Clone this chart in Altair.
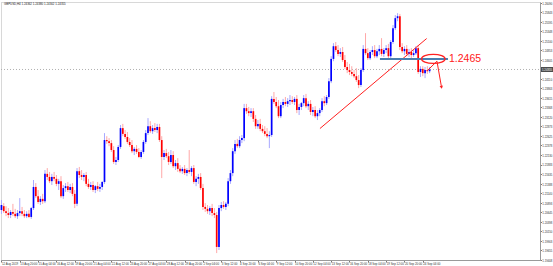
import json
import altair as alt
import pandas as pd

# ---- GBPUSD H4 candles ----
OPEN = [1.2070,1.2080,1.2067,1.2062,1.2057,1.2065,1.2060,1.2054,1.2062,1.2067,
        1.2060,1.2054,1.2060,1.2052,1.2075,1.2130,1.2106,1.2091,1.2099,1.2093,
        1.2164,1.2156,1.2145,1.2156,1.2151,1.2138,1.2145,1.2106,1.2127,1.2132,
        1.2122,1.2130,1.2112,1.2086,1.2171,1.2161,1.2156,1.2161,1.2138,1.2130,
        1.2135,1.2122,1.2132,1.2125,1.2130,1.2143,1.2252,1.2249,1.2244,1.2226,
        1.2195,1.2200,1.2234,1.2283,1.2268,1.2260,1.2247,1.2239,1.2223,1.2229,
        1.2221,1.2208,1.2221,1.2247,1.2270,1.2288,1.2275,1.2283,1.2278,1.2286,
        1.2252,1.2208,1.2218,1.2210,1.2195,1.2213,1.2184,1.2192,1.2177,1.2171,
        1.2177,1.2166,1.2174,1.2169,1.2179,1.2143,1.2151,1.2156,1.2127,1.2078,
        1.2073,1.2067,1.2075,1.2062,1.2057,1.1974,1.2075,1.2083,1.2078,1.2086,
        1.2145,1.2166,1.2223,1.2242,1.2236,1.2252,1.2257,1.2335,1.2327,1.2322,
        1.2327,1.2307,1.2288,1.2294,1.2281,1.2275,1.2268,1.2262,1.2265,1.2359,
        1.2351,1.2340,1.2314,1.2343,1.2351,1.2346,1.2353,1.2356,1.2351,1.2359,
        1.2330,1.2338,1.2348,1.2361,1.2340,1.2346,1.2325,1.2330,1.2314,1.2322,
        1.2330,1.2353,1.2348,1.2364,1.2405,1.2463,1.2496,1.2486,1.2476,1.2481,
        1.2460,1.2442,1.2434,1.2429,1.2424,1.2418,1.2408,1.2395,1.2434,1.2489,
        1.2478,1.2465,1.2481,1.2486,1.2470,1.2483,1.2489,1.2476,1.2486,1.2491,
        1.2470,1.2507,1.2543,1.2569,1.2574,1.2494,1.2483,1.2489,1.2476,1.2481,
        1.2473,1.2478,1.2491,1.2429,1.2437,1.2426,1.2434,1.2431]
HIGH = [1.2096,1.2088,1.2080,1.2075,1.2070,1.2086,1.2073,1.2070,1.2101,1.2078,
        1.2070,1.2067,1.2070,1.2078,1.2148,1.2140,1.2122,1.2106,1.2112,1.2174,
        1.2179,1.2169,1.2164,1.2169,1.2161,1.2151,1.2158,1.2135,1.2140,1.2143,
        1.2138,1.2140,1.2122,1.2179,1.2182,1.2174,1.2166,1.2169,1.2151,1.2143,
        1.2145,1.2135,1.2143,1.2138,1.2145,1.2270,1.2262,1.2257,1.2252,1.2236,
        1.2208,1.2239,1.2291,1.2294,1.2278,1.2273,1.2257,1.2252,1.2234,1.2239,
        1.2231,1.2226,1.2252,1.2278,1.2309,1.2301,1.2291,1.2296,1.2294,1.2294,
        1.2262,1.2226,1.2229,1.2221,1.2226,1.2223,1.2200,1.2205,1.2187,1.2182,
        1.2187,1.2179,1.2226,1.2184,1.2187,1.2158,1.2164,1.2166,1.2138,1.2088,
        1.2083,1.2080,1.2086,1.2075,1.2065,1.2083,1.2091,1.2093,1.2091,1.2153,
        1.2174,1.2231,1.2252,1.2255,1.2262,1.2265,1.2346,1.2346,1.2338,1.2335,
        1.2335,1.2317,1.2304,1.2307,1.2291,1.2288,1.2283,1.2275,1.2366,1.2377,
        1.2364,1.2356,1.2351,1.2359,1.2364,1.2361,1.2369,1.2366,1.2364,1.2369,
        1.2346,1.2351,1.2369,1.2372,1.2353,1.2356,1.2338,1.2340,1.2330,1.2335,
        1.2361,1.2366,1.2369,1.2413,1.2470,1.2504,1.2507,1.2499,1.2491,1.2494,
        1.2473,1.2455,1.2450,1.2444,1.2434,1.2439,1.2421,1.2439,1.2499,1.2530,
        1.2491,1.2486,1.2496,1.2499,1.2489,1.2499,1.2517,1.2491,1.2499,1.2502,
        1.2512,1.2551,1.2577,1.2582,1.2580,1.2504,1.2496,1.2499,1.2489,1.2491,
        1.2486,1.2496,1.2499,1.2444,1.2444,1.2442,1.2444,1.2442]
LOW = [1.2060,1.2062,1.2054,1.2049,1.2049,1.2054,1.2049,1.2047,1.2054,1.2054,
       1.2049,1.2049,1.2049,1.2047,1.2070,1.2101,1.2086,1.2083,1.2086,1.2088,
       1.2148,1.2140,1.2135,1.2145,1.2132,1.2122,1.2101,1.2099,1.2117,1.2117,
       1.2114,1.2106,1.2075,1.2080,1.2153,1.2148,1.2145,1.2132,1.2125,1.2122,
       1.2117,1.2114,1.2119,1.2117,1.2122,1.2138,1.2242,1.2236,1.2221,1.2190,
       1.2187,1.2195,1.2229,1.2262,1.2255,1.2242,1.2234,1.2218,1.2213,1.2216,
       1.2205,1.2203,1.2216,1.2242,1.2265,1.2270,1.2268,1.2273,1.2270,1.2247,
       1.2153,1.2200,1.2205,1.2187,1.2190,1.2179,1.2174,1.2169,1.2166,1.2164,
       1.2161,1.2158,1.2164,1.2158,1.2138,1.2132,1.2138,1.2122,1.2070,1.2065,
       1.2060,1.2057,1.2054,1.2049,1.1958,1.1966,1.2067,1.2073,1.2070,1.2080,
       1.2138,1.2158,1.2216,1.2231,1.2231,1.2244,1.2249,1.2320,1.2314,1.2312,
       1.2299,1.2281,1.2281,1.2275,1.2270,1.2262,1.2257,1.2231,1.2260,1.2346,
       1.2335,1.2309,1.2309,1.2335,1.2340,1.2338,1.2343,1.2346,1.2343,1.2322,
       1.2317,1.2330,1.2340,1.2335,1.2330,1.2317,1.2314,1.2309,1.2304,1.2314,
       1.2325,1.2340,1.2343,1.2359,1.2400,1.2457,1.2481,1.2470,1.2468,1.2455,
       1.2437,1.2426,1.2421,1.2418,1.2413,1.2403,1.2387,1.2390,1.2429,1.2473,
       1.2460,1.2460,1.2473,1.2465,1.2465,1.2473,1.2470,1.2468,1.2478,1.2465,
       1.2465,1.2502,1.2538,1.2561,1.2486,1.2478,1.2473,1.2470,1.2468,1.2465,
       1.2468,1.2473,1.2424,1.2416,1.2418,1.2413,1.2424,1.2426]
CLOSE = [1.2083,1.2067,1.2062,1.2057,1.2065,1.2060,1.2054,1.2062,1.2067,1.2060,
         1.2054,1.2060,1.2052,1.2075,1.2130,1.2106,1.2091,1.2099,1.2093,1.2164,
         1.2156,1.2145,1.2156,1.2151,1.2138,1.2145,1.2106,1.2127,1.2132,1.2122,
         1.2130,1.2112,1.2086,1.2171,1.2161,1.2156,1.2161,1.2138,1.2130,1.2135,
         1.2122,1.2132,1.2125,1.2130,1.2143,1.2252,1.2249,1.2244,1.2226,1.2195,
         1.2200,1.2234,1.2283,1.2268,1.2260,1.2247,1.2239,1.2223,1.2229,1.2221,
         1.2208,1.2221,1.2247,1.2270,1.2288,1.2275,1.2283,1.2278,1.2286,1.2252,
         1.2208,1.2218,1.2210,1.2195,1.2213,1.2184,1.2192,1.2177,1.2171,1.2177,
         1.2166,1.2174,1.2169,1.2179,1.2143,1.2151,1.2156,1.2127,1.2078,1.2073,
         1.2067,1.2075,1.2062,1.2057,1.1974,1.2075,1.2083,1.2078,1.2086,1.2145,
         1.2166,1.2223,1.2242,1.2236,1.2252,1.2257,1.2335,1.2327,1.2322,1.2327,
         1.2307,1.2288,1.2294,1.2281,1.2275,1.2268,1.2262,1.2265,1.2359,1.2351,
         1.2340,1.2314,1.2343,1.2351,1.2346,1.2353,1.2356,1.2351,1.2359,1.2330,
         1.2338,1.2348,1.2361,1.2340,1.2346,1.2325,1.2330,1.2314,1.2322,1.2330,
         1.2353,1.2348,1.2364,1.2405,1.2463,1.2496,1.2486,1.2476,1.2481,1.2460,
         1.2442,1.2434,1.2429,1.2424,1.2418,1.2408,1.2395,1.2434,1.2489,1.2478,
         1.2465,1.2481,1.2486,1.2470,1.2483,1.2489,1.2476,1.2486,1.2491,1.2470,
         1.2507,1.2543,1.2569,1.2574,1.2494,1.2483,1.2489,1.2476,1.2481,1.2473,
         1.2478,1.2491,1.2429,1.2437,1.2426,1.2434,1.2431,1.24355]

CURRENT_PRICE = 1.24355
TITLE_TEXT = "GBPUSD,H4  1.24362 1.24380 1.24302 1.24355"

# price-axis labels
Y_TICKS = [1.26090, 1.25843, 1.25595, 1.25348, 1.25100, 1.24853, 1.24605,
           1.24110, 1.23863, 1.23615, 1.23368, 1.23120, 1.22873, 1.22625,
           1.22378, 1.22130, 1.21883, 1.21635, 1.21388, 1.21140, 1.20893,
           1.20645, 1.20398, 1.20150, 1.19903, 1.19655, 1.19408]

# time-axis labels (bar index, text)
X_TICK_POS = [0, 8, 16, 24, 32, 40, 48, 56, 64, 72, 80, 88, 96, 104, 112,
              120, 128, 136, 144, 152, 160, 168, 176, 184]
X_TICK_TEXT = ["12 Aug 2019", "13 Aug 20:00", "15 Aug 04:00", "16 Aug 12:00",
               "19 Aug 20:00", "21 Aug 04:00", "22 Aug 12:00", "23 Aug 20:00",
               "27 Aug 04:00", "28 Aug 12:00", "29 Aug 20:00", "2 Sep 04:00",
               "3 Sep 12:00", "4 Sep 20:00", "6 Sep 04:00", "9 Sep 12:00",
               "10 Sep 20:00", "12 Sep 04:00", "13 Sep 12:00", "16 Sep 20:00",
               "18 Sep 04:00", "19 Sep 12:00", "20 Sep 20:00", "24 Sep 04:00"]

# annotations drawn on the chart (bar index, price)
TREND_X = [139.1, 185.7]
TREND_P = [1.2282, 1.2516]
LEVEL_X = [165.3, 195.0]
LEVEL_P = 1.2463
LEVEL_TEXT = "1.2465"
ELLIPSE_X = 188.6
ARROW_X = [185.9, 190.2, 192.2]
ARROW_P = [1.2432, 1.2457, 1.2389]

N = len(OPEN)
df = pd.DataFrame({"i": list(range(N)), "open": OPEN, "high": HIGH,
                   "low": LOW, "close": CLOSE})

SMALL_FONT = "Liberation Sans"
W, H = 539, 258
xs = alt.Scale(domain=[-0.2, 235.2], nice=False, zero=False)
ys = alt.Scale(domain=[1.1940, 1.2611], nice=False, zero=False)

label_expr = "{}[indexof({}, datum.value)]".format(json.dumps(X_TICK_TEXT), json.dumps(X_TICK_POS))
xaxis = alt.Axis(values=X_TICK_POS, labelExpr=label_expr, title=None, grid=False,
                 labelAlign="left", labelFontSize=2.9, labelFont=SMALL_FONT,
                 labelColor="#333333", tickSize=2, tickColor="#777777",
                 domainColor="#9a9a9a", labelPadding=0.5, labelOverlap=False,
                 labelBound=False, labelFlush=False)
yaxis = alt.Axis(values=Y_TICKS, format=".5f", orient="right", title=None, grid=False,
                 labelFontSize=2.8, labelFont=SMALL_FONT, labelColor="#333333",
                 tickSize=1.5, tickColor="#777777", domainColor="#9a9a9a",
                 labelPadding=0.3, labelOverlap=False, labelBound=False, labelFlush=False)


def X(f):
    return alt.X(f, type="quantitative", scale=xs, axis=xaxis)


def Y(f):
    return alt.Y(f, type="quantitative", scale=ys, axis=yaxis)


up = "datum.close >= datum.open"
base = alt.Chart(df)
wick = base.mark_rule(strokeWidth=1).encode(
    x=X("i"), y=Y("low"), y2="high",
    color=alt.condition(up, alt.value("#a8a8ff"), alt.value("#ffa8a8")))
body = base.mark_rule(strokeWidth=1.7, strokeCap="butt").encode(
    x=X("i"), y=Y("open"), y2="close",
    color=alt.condition(up, alt.value("#0000ff"), alt.value("#ff0000")))

cur_df = pd.DataFrame({"p": [CURRENT_PRICE], "t": ["%.5f" % CURRENT_PRICE]})
cur_line = alt.Chart(cur_df).mark_rule(color="#b0b0b0", strokeWidth=1, strokeDash=[1, 2]).encode(
    y=Y("p"), x=alt.value(0), x2=alt.value(W))
cur_box = alt.Chart(cur_df).mark_tick(orient="horizontal", size=12, thickness=5, color="#000000").encode(
    y=Y("p"), x=alt.value(W + 7))
cur_txt = alt.Chart(cur_df).mark_text(align="left", baseline="middle", fontSize=2.8,
                                      font=SMALL_FONT, color="#ffffff").encode(
    y=Y("p"), x=alt.value(W + 2), text="t:N")

trend_df = pd.DataFrame({"x": TREND_X, "p": TREND_P})
trend = alt.Chart(trend_df).mark_line(color="#ff2020", strokeWidth=1).encode(x=X("x"), y=Y("p"))

lvl_df = pd.DataFrame({"x": [LEVEL_X[0]], "x2": [LEVEL_X[1]], "p": [LEVEL_P]})
level = alt.Chart(lvl_df).mark_rule(color="#4a7fb0", strokeWidth=2).encode(
    x=X("x"), x2="x2", y=Y("p"))

ell_df = pd.DataFrame({"x": [ELLIPSE_X], "p": [LEVEL_P]})
ellipse_path = ("M -1 0 C -1 -0.21 -0.55 -0.38 0 -0.38 C 0.55 -0.38 1 -0.21 1 0 "
                "C 1 0.21 0.55 0.38 0 0.38 C -0.55 0.38 -1 0.21 -1 0 Z")
ellipse = alt.Chart(ell_df).mark_point(shape=ellipse_path, size=560, filled=False,
                                       stroke="#ff2020", strokeWidth=1.3, opacity=1).encode(
    x=X("x"), y=Y("p"))

txt_df = pd.DataFrame({"x": [LEVEL_X[1]], "p": [LEVEL_P], "t": [LEVEL_TEXT]})
level_txt = alt.Chart(txt_df).mark_text(align="left", baseline="middle", dx=1, fontSize=10.5,
                                        font="Liberation Sans", color="#ff2020").encode(
    x=X("x"), y=Y("p"), text="t:N")

arrow_df = pd.DataFrame({"x": ARROW_X, "p": ARROW_P, "o": [0, 1, 2]})
arrow = alt.Chart(arrow_df).mark_line(color="#ff2020", strokeWidth=1).encode(
    x=X("x"), y=Y("p"), order="o:Q")
head_df = pd.DataFrame({"x": [ARROW_X[-1]], "p": [ARROW_P[-1]]})
head = alt.Chart(head_df).mark_point(shape="triangle-up", angle=169, size=12, filled=True,
                                     color="#ff2020", opacity=1).encode(x=X("x"), y=Y("p"))

title_df = pd.DataFrame({"t": [TITLE_TEXT]})
title = alt.Chart(title_df).mark_text(align="left", baseline="middle", fontSize=2.9,
                                      font=SMALL_FONT, color="#222222").encode(
    x=alt.value(3), y=alt.value(1.5), text="t:N")

chart = alt.layer(cur_line, wick, body, trend, level, ellipse, level_txt, arrow, head,
                  cur_box, cur_txt, title).properties(
    width=W, height=H, autosize="none",
    padding={"left": 1, "top": 2, "right": 13, "bottom": 6},
    background="#ffffff",
).configure_view(stroke="#b0b0b0", strokeDash=[1, 1], strokeWidth=1)

chart.save("out.html", embed_options={"renderer": "svg", "actions": False})
